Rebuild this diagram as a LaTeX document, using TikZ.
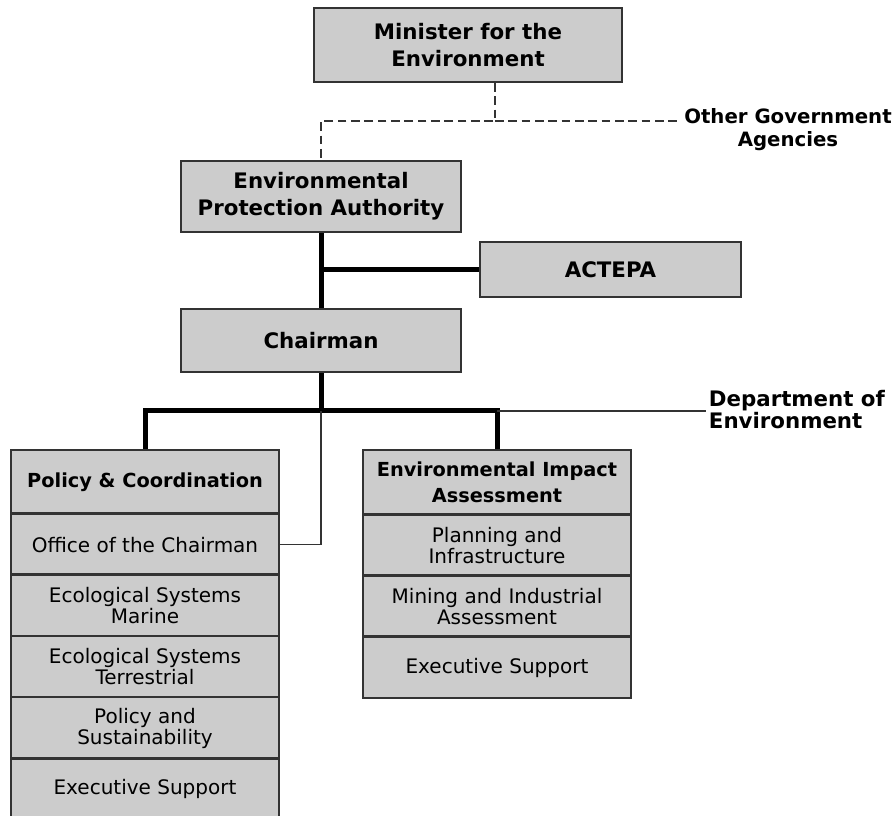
\documentclass[tikz,border=0pt]{standalone}
\usepackage{fontspec}
\setmainfont{DejaVu Sans}
\usetikzlibrary{positioning, calc}

\definecolor{boxgray}{gray}{0.8}
\definecolor{edgegray}{gray}{0.2}

\begin{document}
\begin{tikzpicture}[
    x=0.75pt, y=-0.75pt,
    box/.style={draw=edgegray, fill=boxgray, line width=1.3pt, align=center, inner sep=2pt},
    title/.style={box, font=\fontsize{16pt}{20pt}\selectfont\bfseries},
    head/.style={box, font=\fontsize{14.5pt}{19.5pt}\selectfont\bfseries,
        minimum width=201pt},
    unit/.style={box, font=\fontsize{15pt}{15.75pt}\selectfont,
        minimum width=201pt, minimum height=45.9pt},
    trunk/.style={line width=3.75pt},
    link/.style={line width=1.2pt, draw=edgegray},
    dashlink/.style={line width=1.2pt, draw=edgegray, dash pattern=on 6.5pt off 3.5pt},
    plain/.style={font=\fontsize{16pt}{16.5pt}\selectfont\bfseries, inner sep=2pt},
]
    \useasboundingbox (0,0) rectangle (894,816);

    \node[title, minimum width=231pt, minimum height=55.5pt] (minister) at (468,45)
        {Minister for the\\Environment};
    \node[title, minimum width=210pt, minimum height=53.25pt] (epa) at (321,196.5)
        {Environmental\\Protection Authority};
    \node[title, minimum width=195.75pt, minimum height=41.25pt] (actepa) at (610.5,269.5)
        {ACTEPA};
    \node[title, minimum width=210pt, minimum height=47.25pt] (chair) at (321,340.5)
        {Chairman};

    \node[plain, align=center, font=\fontsize{14.8pt}{17.25pt}\selectfont\bfseries] (oga)
        at (788,130) {Other Government\\Agencies};
    \coordinate (ogaend) at (680,120);
    \node[plain, align=left, anchor=west] (dept) at (706,410) {Department of\\Environment};

    % Policy & Coordination column
    \node[head, minimum height=48pt] (pc0) at (145,482) {Policy \& Coordination};
    \foreach \txt [count=\i] in {{Office of the Chairman}, {Ecological Systems\\Marine},
        {Ecological Systems\\Terrestrial}, {Policy and\\Sustainability}, {Executive Support}}
        \node[unit] (pc\i) at (145,{514+61.2*(\i-0.5)}) {\txt};

    % Environmental Impact Assessment column
    \node[head, minimum height=48.75pt] (eia0) at (497,482.5) {Environmental Impact\\Assessment};
    \foreach \txt [count=\i] in {{Planning and\\Infrastructure}, {Mining and Industrial\\Assessment},
        {Executive Support}}
        \node[unit, minimum height=45.75pt] (eia\i) at (497,{515+61*(\i-0.5)}) {\txt};

    % row borders again on top of the fills
    \foreach \i in {1,...,5}
        \draw[draw=edgegray, line width=1.3pt] (pc\i.north west) -- (pc\i.north east);
    \foreach \i in {1,...,3}
        \draw[draw=edgegray, line width=1.3pt] (eia\i.north west) -- (eia\i.north east);

    % dashed reporting lines
    \draw[dashlink] ([xshift=20.25pt]minister.south) -- ++(0,38) coordinate (split)
        -| (epa.north);
    \draw[dashlink] (split) -- (split -| ogaend);

    % solid lines
    \draw[trunk] (epa.south) -- (chair.north);
    \draw[trunk] (epa.south |- actepa.west) -- (actepa.west);
    \draw[trunk] (chair.south) -- ++(0,38) coordinate (bus);
    \draw[trunk] (pc0.north) |- (bus) -| (eia0.north);
    \draw[link] (eia0.north |- bus) -- (bus -| dept.west);
    \draw[link] (bus) |- (pc1.east);
\end{tikzpicture}
\end{document}
